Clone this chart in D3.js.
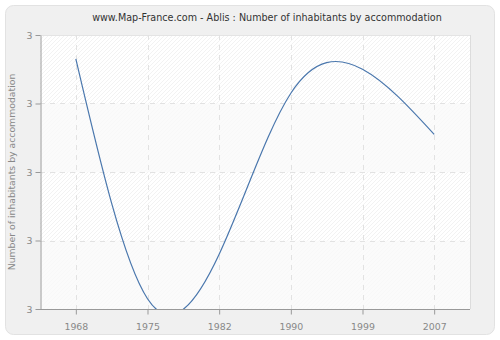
<!DOCTYPE html>
<html><head><meta charset="utf-8">
<script src="https://cdn.jsdelivr.net/npm/d3@7"></script>
<style>body{margin:0;background:#fff;}svg{display:block;font-family:"DejaVu Sans",Verdana,sans-serif;}</style>
</head><body>
<svg id="c" width="500" height="340"></svg>
<script>
const years = ["1968","1975","1982","1990","1999","2007"];
const values = [3.33, 2.63, 2.76, 3.23, 3.30, 3.11];
const yTicks = [2.6, 2.8, 3.0, 3.2, 3.4];
const title = "www.Map-France.com - Ablis : Number of inhabitants by accommodation";
const yTitle = "Number of inhabitants by accommodation";

const svg = d3.select("#c");
const m = {l:40, r:470, t:35, b:309};
const defs = svg.append("defs");
const pat = defs.append("pattern").attr("id","hatch").attr("patternUnits","userSpaceOnUse")
  .attr("width",4).attr("height",4);
pat.append("rect").attr("width",4).attr("height",4).attr("fill","#ffffff");
pat.append("path").attr("d","M-1,5 L5,-1 M3,5 L5,3 M-1,1 L1,-1").attr("stroke","#f2f2f2").attr("stroke-width",1);
defs.append("clipPath").attr("id","clip").append("rect")
  .attr("x",m.l).attr("y",m.t).attr("width",m.r-m.l).attr("height",m.b-m.t);

svg.append("rect").attr("x",5.5).attr("y",5.5).attr("width",489).attr("height",329).attr("rx",8)
  .attr("fill","#f0f0f0").attr("stroke","#e2e2e2");

const x = d3.scalePoint().domain(years).range([m.l, m.r]).padding(0.5);
const y = d3.scaleLinear().domain([2.6, 3.4]).range([m.b, m.t]);

svg.append("rect").attr("x",m.l).attr("y",m.t).attr("width",m.r-m.l).attr("height",m.b-m.t)
  .attr("fill","url(#hatch)");
const bands = d3.pairs(yTicks).filter((d,i)=>i%2===0);
svg.selectAll(".band").data(bands).join("rect")
  .attr("x",m.l).attr("width",m.r-m.l)
  .attr("y",d=>y(d[1])).attr("height",d=>y(d[0])-y(d[1]))
  .attr("fill","#fafafa").attr("opacity",0.75);
svg.append("line").attr("x1",m.l).attr("x2",m.r).attr("y1",m.t+0.5).attr("y2",m.t+0.5).attr("stroke","#e4e4e4");
svg.append("line").attr("x1",m.r+0.5).attr("x2",m.r+0.5).attr("y1",m.t).attr("y2",m.b).attr("stroke","#dcdcdc");

const g = svg.append("g");
g.selectAll(".gx").data(years).join("line")
  .attr("x1",d=>Math.round(x(d))+0.5).attr("x2",d=>Math.round(x(d))+0.5)
  .attr("y1",m.t).attr("y2",m.b).attr("stroke","#e2e2e2").attr("stroke-dasharray","5,5");
g.selectAll(".gy").data(yTicks.slice(1,-1)).join("line")
  .attr("y1",d=>Math.round(y(d))+0.5).attr("y2",d=>Math.round(y(d))+0.5)
  .attr("x1",m.l).attr("x2",m.r).attr("stroke","#e2e2e2").attr("stroke-dasharray","5,5");

const line = d3.line().x((d,i)=>x(years[i])).y(d=>y(d)).curve(d3.curveNatural);
svg.append("path").datum(values).attr("d",line).attr("clip-path","url(#clip)")
  .attr("fill","none").attr("stroke","#4a77ad").attr("stroke-width",1.2);

const xa = svg.append("g").attr("transform",`translate(0,${m.b+0.5})`)
  .call(d3.axisBottom(x).tickSize(5).tickSizeOuter(0));
const ya = svg.append("g").attr("transform",`translate(${m.l+0.5},0)`)
  .call(d3.axisLeft(y).tickValues(yTicks).tickFormat(d3.format(".0f")).tickSize(5).tickSizeOuter(0));
[xa,ya].forEach(a=>{
  a.select(".domain").attr("stroke","#999");
  a.selectAll(".tick line").attr("stroke","#999");
  a.selectAll(".tick text").attr("fill","#888").attr("font-size",9.4)
   .attr("font-family","DejaVu Sans, Verdana, sans-serif");
});
xa.select(".domain").attr("d",`M${m.l},0H${m.r}`);
xa.selectAll(".tick text").attr("dy","1.3em");

svg.append("text").attr("x",267).attr("y",21).attr("text-anchor","middle")
  .attr("font-size",9.6).attr("fill","#333").text(title);
svg.append("text").attr("transform",`translate(15,${(m.t+m.b)/2}) rotate(-90)`)
  .attr("text-anchor","middle").attr("font-size",9.3).attr("fill","#888").text(yTitle);
</script>
</body></html>
